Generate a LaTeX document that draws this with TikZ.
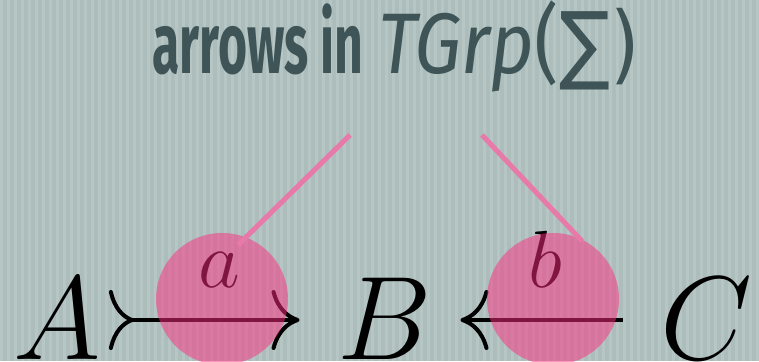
\RequirePackage{fix-cm}
\documentclass[tikz,border=0pt]{standalone}
\usepackage{fontspec}
\usetikzlibrary{arrows.meta}
\newfontfamily\titlefont{Fira Sans}
\newfontfamily\symfont{DejaVu Sans}
\definecolor{bgbase}{RGB}{172,189,188}
\definecolor{bgstripe}{RGB}{182,198,196}
\definecolor{slate}{RGB}{62,84,86}
\definecolor{hotpink}{RGB}{255,45,128}
\definecolor{calloutpink}{RGB}{232,122,170}

\begin{document}
\begin{tikzpicture}[
    x=1pt, y=-1pt,
    obj/.style={inner sep=0pt, anchor=base, font=\fontsize{119}{120}\selectfont},
    lbl/.style={inner sep=0pt, anchor=base, font=\fontsize{81}{82}\selectfont},
    title/.style={inner sep=0pt, anchor=base, text=slate, font=\titlefont\fontsize{86}{88}\selectfont},
    spot/.style={circle, fill=hotpink, fill opacity=0.5, minimum size=132pt, inner sep=0pt},
    callout/.style={draw=calloutpink, line width=5pt},
    mono/.style={line width=4pt,
        {Computer Modern Rightarrow[reversed,length=25pt,width=60pt]}-{Computer Modern Rightarrow[length=28pt,width=60pt]}},
    plain/.style={line width=4pt, -{Computer Modern Rightarrow[length=28pt,width=60pt]}}
]
\useasboundingbox (0,0) rectangle (759,361);
\clip (0,0) rectangle (759,361);

% Background
\fill[bgbase] (0,0) rectangle (759,361);
\foreach \x in {0,7,...,756}
    \fill[bgstripe] (\x,0) rectangle ++(3,361);

% Title
\node[title] (title) at (396,73) {\scalebox{0.58}[1]{\bfseries arrows in}\kern15pt\scalebox{0.88}[1]{\textit{TGrp}(\symfont ∑)}};

% Objects
\node[obj] (A) at (57,359) {$A$};
\node[obj] (B) at (385,359) {$B$};
\node[obj] (C) at (706,359) {$C$};

% Morphisms
\draw[mono, shorten <=8pt, shorten >=38pt] ([yshift=39pt]A.base east) -- ([yshift=39pt]B.base west);
\draw[plain, shorten <=37pt, shorten >=28pt] ([yshift=39pt]C.base west) -- ([yshift=39pt]B.base east);

\node[lbl] (a) at (219,287) {$a$};
\node[lbl] (b) at (545,287) {$b$};

% Highlights
\node[spot] (sa) at (222,299) {};
\node[spot] (sb) at (553,299) {};

\coordinate (ta) at (350,135);
\coordinate (ea) at (238,245);
\coordinate (tb) at (482,135);
\coordinate (eb) at (582,241);
\draw[callout] (ta) -- (ea);
\draw[callout] (tb) -- (eb);

\end{tikzpicture}
\end{document}
